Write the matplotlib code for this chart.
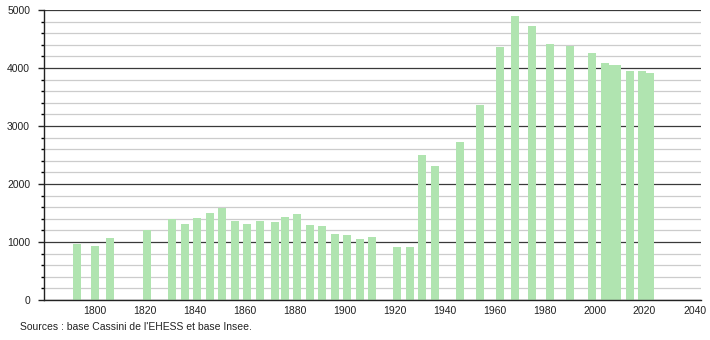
import matplotlib.pyplot as plt
from matplotlib.ticker import MultipleLocator

years = [1793, 1800, 1806, 1821, 1831, 1836, 1841, 1846, 1851, 1856,
         1861, 1866, 1872, 1876, 1881, 1886, 1891, 1896, 1901, 1906,
         1911, 1921, 1926, 1931, 1936, 1946, 1954, 1962, 1968, 1975,
         1982, 1990, 1999, 2004, 2006, 2009, 2014, 2019, 2022]
population = [966, 931, 1075, 1207, 1391, 1316, 1414, 1506, 1586, 1368,
              1316, 1368, 1351, 1437, 1483, 1299, 1276, 1144, 1121, 1052,
              1086, 914, 908, 2500, 2310, 2724, 3362, 4362, 4897, 4724,
              4414, 4385, 4259, 4091, 4050, 4047, 3953, 3953, 3909]

source_text = "Sources : base Cassini de l'EHESS et base Insee."

plt.rcParams['font.family'] = ['Liberation Sans', 'DejaVu Sans']

fig = plt.figure(figsize=(7.1, 3.4), dpi=100)
ax = fig.add_axes([0.062, 0.1176, 0.925, 0.853])

ax.bar(years, population, width=3.2, color='#b0e4b0', zorder=3)

ax.set_xlim(1779.7, 2042.5)
ax.set_ylim(0, 5000)
ax.set_xticks(range(1800, 2041, 20))
ax.yaxis.set_major_locator(MultipleLocator(1000))
ax.yaxis.set_minor_locator(MultipleLocator(200))

ax.grid(which='major', axis='y', color='#3a3a3a', linewidth=0.9, zorder=1)
ax.grid(which='minor', axis='y', color='#cccccc', linewidth=0.9, zorder=0)

for side in ['top', 'right']:
    ax.spines[side].set_visible(False)
for side in ['left', 'bottom']:
    ax.spines[side].set_linewidth(1.0)
    ax.spines[side].set_color('#222222')
    ax.spines[side].set_zorder(4)

ax.tick_params(axis='x', length=0, pad=4, labelsize=7.5, colors='#222222')
ax.tick_params(axis='y', which='major', length=4, width=1, pad=6, labelsize=7.5, colors='#222222')
ax.tick_params(axis='y', which='minor', length=2, width=1)

fig.text(20 / 710, 1 - 327 / 340, source_text, fontsize=7.5, color='#222222',
         va='center', ha='left')

fig.savefig('out.png', dpi=100)
